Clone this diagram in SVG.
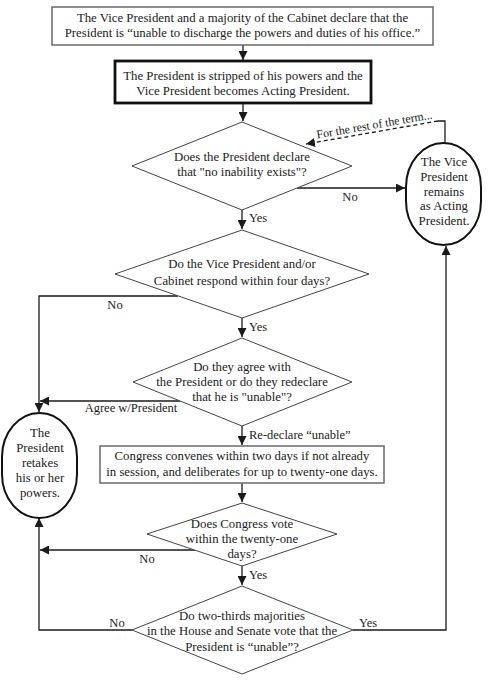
<svg xmlns="http://www.w3.org/2000/svg" width="488" height="680" viewBox="0 0 488 680">
<defs>
<marker id="ah" markerUnits="userSpaceOnUse" markerWidth="10" markerHeight="9" refX="9" refY="4.5" orient="auto">
<path d="M0,0 L9,4.5 L0,9 z" fill="#1a1a1a"/>
</marker>
<style>
text{font-family:"Liberation Serif","Times New Roman",serif;font-size:12.8px;fill:#222;text-anchor:middle}
.lbl{font-size:12.5px}
.st{text-anchor:start}
.box{fill:#fff;stroke:#6a6a6a;stroke-width:1.5}
.bold{fill:#fff;stroke:#111;stroke-width:2.8}
.dia{fill:#fff;stroke:#444;stroke-width:1}
.oval{fill:#fff;stroke:#111;stroke-width:2}
.con{fill:none;stroke:#1a1a1a;stroke-width:1.3}
.arr{marker-end:url(#ah)}
.dash{stroke-dasharray:4,3}
</style>
</defs>
<rect width="488" height="680" fill="#fff"/>
<g id="connectors">
<path class="con arr" d="M243,45 V60"/>
<path class="con arr" d="M243,103 V121"/>
<path class="con arr" d="M297,188 H405"/>
<path class="con" d="M445,143 V121 H438"/>
<path class="con arr dash" d="M438,121 L306,144"/>
<path class="con arr" d="M242,210 V229"/>
<path class="con arr" d="M178,296 H39 V412"/>
<path class="con arr" d="M242,318 V337"/>
<path class="con arr" d="M180,401 H40"/>
<path class="con arr" d="M242,426 V445"/>
<path class="con arr" d="M242,483 V502"/>
<path class="con arr" d="M195,550 H40"/>
<path class="con arr" d="M242,566 V585"/>
<path class="con arr" d="M132,630 H39 V518"/>
<path class="con arr" d="M353,630 H446 V246"/>
<text class="lbl" x="350" y="201">No</text>
<text class="lbl" style="font-size:11.8px" transform="translate(375,128.5) rotate(-9.9)">For the rest of the term...</text>
<text class="lbl st" x="249" y="222">Yes</text>
<text class="lbl" x="115" y="309">No</text>
<text class="lbl st" x="249" y="331">Yes</text>
<text class="lbl" x="131" y="412">Agree w/President</text>
<text class="lbl st" x="249" y="439">Re-declare “unable”</text>
<text class="lbl" x="147" y="563">No</text>
<text class="lbl st" x="249" y="579">Yes</text>
<text class="lbl" x="117" y="627">No</text>
<text class="lbl" x="368" y="627">Yes</text>
</g>
<g id="n1">
<rect class="box" x="52" y="7" width="381" height="38"/>
<text x="242.5" y="22">The Vice President and a majority of the Cabinet declare that the</text>
<text x="242.5" y="37">President is “unable to discharge the powers and duties of his office.”</text>
</g>
<g id="n2">
<rect class="bold" x="115" y="61" width="256" height="42"/>
<text x="243" y="80">The President is stripped of his powers and the</text>
<text x="243" y="95">Vice President becomes Acting President.</text>
</g>
<g id="d1">
<polygon class="dia" points="242,122 352,166 242,210 132,166"/>
<text x="242" y="161">Does the President declare</text>
<text x="242" y="176">that "no inability exists"?</text>
</g>
<g id="vp">
<rect class="oval" x="406" y="143" width="75" height="102" rx="37.5" ry="44"/>
<text x="444" y="166">The Vice</text>
<text x="444" y="181">President</text>
<text x="444" y="196">remains</text>
<text x="444" y="210">as Acting</text>
<text x="444" y="225">President.</text>
</g>
<g id="d2">
<polygon class="dia" points="242,230 369,274 242,318 115,274"/>
<text x="242" y="268">Do the Vice President and/or</text>
<text x="242" y="285">Cabinet respond within four days?</text>
</g>
<g id="d3">
<polygon class="dia" points="242,338 352,382 242,426 133,382"/>
<text x="242" y="371">Do they agree with</text>
<text x="242" y="386">the President or do they redeclare</text>
<text x="242" y="401">that he is "unable"?</text>
</g>
<g id="pres">
<rect class="oval" x="2" y="413" width="75" height="105" rx="37.5" ry="44"/>
<text x="40" y="437">The</text>
<text x="40" y="452">President</text>
<text x="40" y="467">retakes</text>
<text x="40" y="482">his or her</text>
<text x="40" y="497">powers.</text>
</g>
<g id="n3">
<rect class="box" x="100" y="446" width="284" height="37"/>
<text x="242" y="460">Congress convenes within two days if not already</text>
<text x="242" y="476">in session, and deliberates for up to twenty-one days.</text>
</g>
<g id="d4">
<polygon class="dia" points="242,503 337,534 242,566 147,534"/>
<text x="242" y="528">Does Congress vote</text>
<text x="242" y="543">within the twenty-one</text>
<text x="242" y="558">days?</text>
</g>
<g id="d5">
<polygon class="dia" points="242,586 353,630 242,674 132,630"/>
<text x="242" y="620">Do two-thirds majorities</text>
<text x="242" y="635">in the House and Senate vote that the</text>
<text x="242" y="651">President is “unable”?</text>
</g>
</svg>
